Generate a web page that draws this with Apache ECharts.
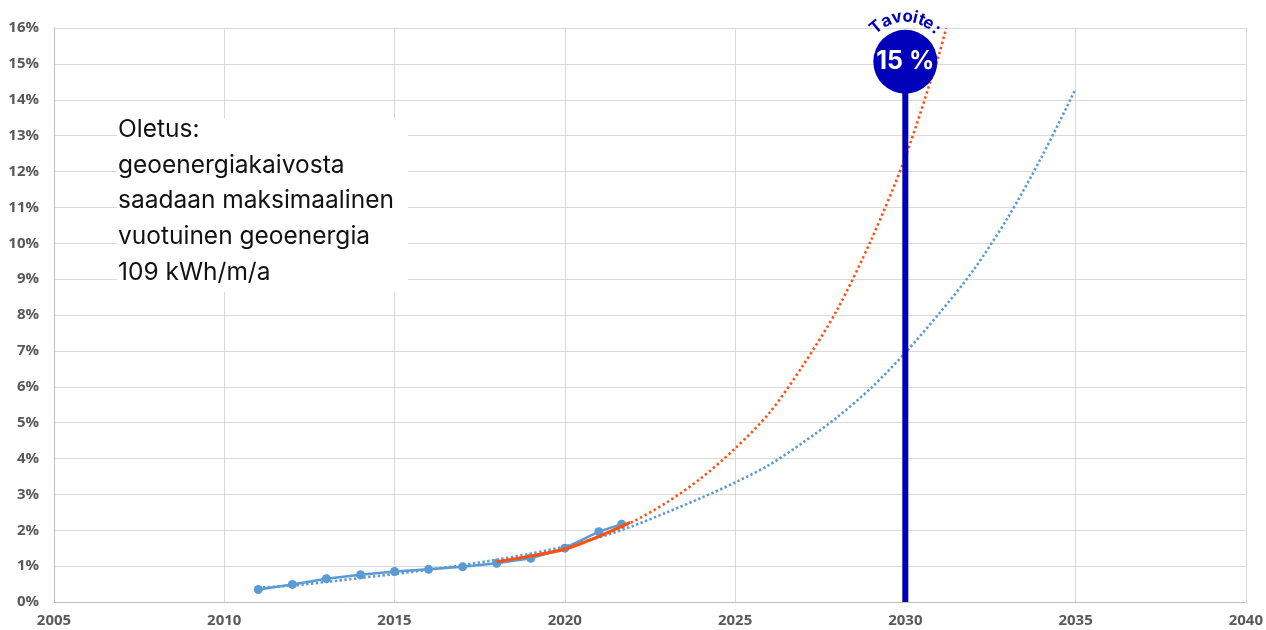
<!DOCTYPE html>
<html><head><meta charset="utf-8">
<script src="https://cdn.jsdelivr.net/npm/echarts@6/dist/echarts.min.js"></script>
<style>html,body{margin:0;padding:0;background:#fff}#c{width:1266px;height:630px}</style>
</head><body><div id="c"></div>
<script>
// ---- data ----
const years = [2011, 2012, 2013, 2014, 2015, 2016, 2017, 2018, 2019, 2020, 2021, 2021.67];
const shareBlue = [0.35, 0.49, 0.65, 0.76, 0.85, 0.91, 0.98, 1.08, 1.22, 1.50, 1.96, 2.17];
const orangeYears = [2018, 2019, 2020, 2021, 2021.92];
const shareOrange = [1.12, 1.28, 1.47, 1.83, 2.22];
const blueTrendYears = [2011, 2012, 2013, 2014, 2015, 2016, 2017, 2018, 2019, 2020, 2021, 2022, 2023, 2024, 2025, 2026, 2027, 2028, 2029, 2030, 2031, 2032, 2033, 2034, 2035];
const blueTrend = [0.40, 0.46, 0.56, 0.67, 0.78, 0.90, 1.03, 1.18, 1.35, 1.55, 1.80, 2.12, 2.50, 2.90, 3.33, 3.82, 4.45, 5.15, 5.97, 6.95, 8.05, 9.25, 10.7, 12.4, 14.3];
const orangeTrendYears = [2018, 2019, 2020, 2021, 2022, 2023, 2024, 2025, 2026, 2027, 2028, 2029, 2030, 2031, 2031.2];
const orangeTrend = [1.12, 1.28, 1.49, 1.82, 2.24, 2.78, 3.45, 4.28, 5.26, 6.6, 8.15, 10.1, 12.4, 15.3, 16.0];
const targetYear = 2030;
const targetValue = 15;
const targetLabel = '15 %';
const targetTitle = 'Tavoite:';
const noteLines = ['Oletus:', 'geoenergiakaivosta', 'saadaan maksimaalinen', 'vuotuinen geoenergia', '109 kWh/m/a'];
const xMin = 2005, xMax = 2040, xStep = 5;
const yMin = 0, yMax = 16, yStep = 1;

const zip = (a, b) => a.map((v, i) => [v, b[i]]);
const BLUE = '#5b9bd5', ORANGE = '#ff5014', NAVY = '#0000bb';
const axisFont = {fontFamily: 'Open Sans', fontWeight: 'bold', fontSize: 15, color: '#595959'};

const chart = echarts.init(document.getElementById('c'), null, {renderer: 'canvas'});
chart.setOption({
  animation: false,
  grid: {left: 54, right: 18, top: 28, bottom: 28, containLabel: false},
  xAxis: {type: 'value', min: xMin, max: xMax, interval: xStep,
    axisLine: {lineStyle: {color: '#bfbfbf'}}, axisTick: {show: false},
    axisLabel: Object.assign({margin: 11, formatter: v => String(v)}, axisFont),
    splitLine: {show: true, lineStyle: {color: '#d9d9d9'}}},
  yAxis: {type: 'value', min: yMin, max: yMax, interval: yStep,
    axisLine: {show: true, lineStyle: {color: '#bfbfbf'}}, axisTick: {show: false},
    axisLabel: Object.assign({margin: 15, formatter: v => v + '%'}, axisFont),
    splitLine: {show: true, lineStyle: {color: '#d9d9d9'}}},
  series: [
    {type: 'line', data: zip(blueTrendYears, blueTrend), smooth: 0.3, symbol: 'none',
      lineStyle: {color: BLUE, width: 2.6, type: [2.4, 2.4]}, z: 2},
    {type: 'line', data: zip(years, shareBlue), symbol: 'circle', symbolSize: 9,
      itemStyle: {color: BLUE}, lineStyle: {color: BLUE, width: 2.5}, z: 3},
    {type: 'line', data: zip(orangeYears, shareOrange), smooth: 0.2, symbol: 'none',
      lineStyle: {color: ORANGE, width: 3}, z: 4},
    {type: 'line', data: zip(orangeTrendYears, orangeTrend), smooth: 0.3, symbol: 'none',
      lineStyle: {color: ORANGE, width: 2.6, type: [2.4, 2.8]}, z: 4},
    {type: 'line', data: [[targetYear, 0], [targetYear, targetValue]], symbol: 'none',
      lineStyle: {color: NAVY, width: 6}, z: 5},
    {type: 'scatter', data: [[targetYear, targetValue + 0.06]], symbolSize: 64,
      itemStyle: {color: NAVY, opacity: 1}, z: 6,
      label: {show: true, position: 'inside', formatter: targetLabel, color: '#fff',
        fontFamily: 'Inter', fontWeight: 'bold', fontSize: 25}}
  ]
});

const c = chart.convertToPixel({gridIndex: 0}, [targetYear, targetValue + 0.06]);
const angles = [-40, -25, -11, 3, 13, 21.5, 31, 44];
const rad = 45;
const letters = targetTitle.split('').map((ch, i) => {
  const a = angles[i] * Math.PI / 180;
  return {type: 'text', x: c[0] + rad * Math.sin(a), y: c[1] - rad * Math.cos(a), rotation: -a, z: 20,
    style: {text: ch, fill: NAVY, font: 'bold 17px Inter', align: 'center', verticalAlign: 'middle'}};
});
chart.setOption({graphic: [
  {type: 'rect', shape: {x: 117, y: 118, width: 291, height: 174}, style: {fill: '#fff'}, z: 10},
  {type: 'text', x: 118, y: 112, z: 11,
    style: {text: noteLines.join('\n'), font: '24.5px Inter', fill: '#111', lineHeight: 35.6}}
].concat(letters)});
</script></body></html>
